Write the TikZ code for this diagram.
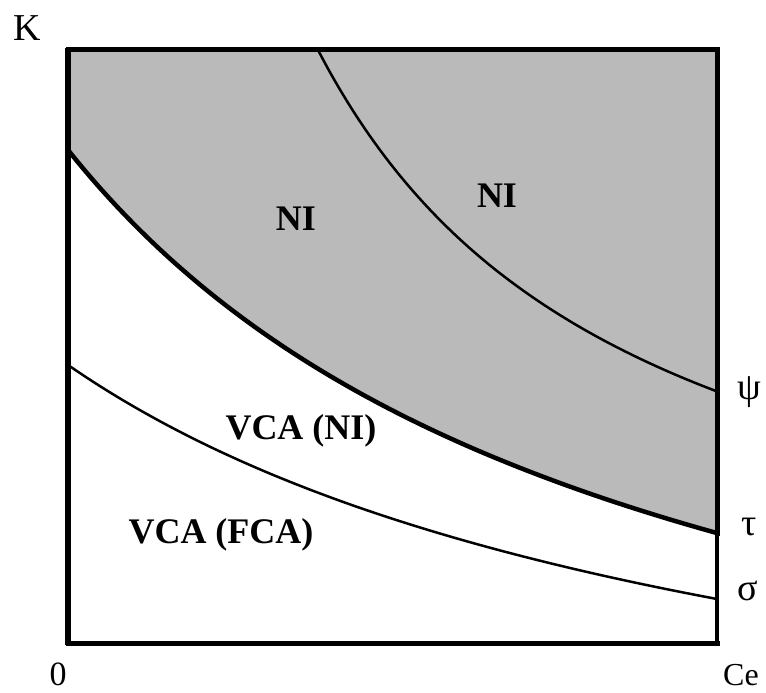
\documentclass[tikz,border=0pt]{standalone}
\usepackage{fontspec}
\setmainfont{Liberation Serif}
\begin{document}
\begin{tikzpicture}[x=1pt,y=-1pt,
  region/.style={font=\bfseries\fontsize{36}{40}\selectfont, inner sep=0pt, anchor=base},
  axislbl/.style={font=\fontsize{34}{38}\selectfont, inner sep=0pt},
  greeklbl/.style={font=\fontsize{38}{42}\selectfont, inner sep=0pt},
  thickcurve/.style={line width=4.5pt},
  thincurve/.style={line width=2.5pt},
  frame/.style={line width=5pt, line cap=rect, line join=miter}]
\useasboundingbox (0,0) rectangle (766,693);
% shaded NI region
\fill[black!27] (68,50) -- (717,50) -- (717,533)
  -- plot[domain=717:68, samples=80] (\x, {874 - 418.225/((\x+509.7)/1000)}) -- cycle;
% curves
\draw[thickcurve] plot[domain=68:717, samples=80] (\x, {874 - 418.225/((\x+509.7)/1000)});
\draw[thincurve] plot[domain=318:717, samples=80] (\x, {663.6 - 195.136/(\x/1000)});
\draw[thincurve] plot[domain=68:717, samples=80] (\x, {854.2 - 346.257/((\x+639.8)/1000)});
% frame
\draw[frame] (717,533) -- (717,50) -- (68,50) -- (68,643) -- (717,643);
\draw[line width=6pt] (68,48) -- (68,645);
\draw[line width=3.5pt, line cap=rect] (717,643) -- (717,533);
% region labels
\node[region] (ni1) at (296,230) {NI};
\node[region] (ni2) at (497,207) {NI};
\node[region] (vcani) at (301,439) {VCA (NI)};
\node[region] (vcafca) at (221,543) {VCA (FCA)};
% axis labels
\node[axislbl, font=\fontsize{38}{40}\selectfont] (k) at (27,28) {K};
\node[axislbl] (zero) at (58,674) {0};
\node[axislbl, font=\fontsize{32}{36}\selectfont] (ce) at (741,675) {Ce};
\node[greeklbl] (psi) at (749,392) {ψ};
\node[greeklbl] (tau) at (749,527) {τ};
\node[greeklbl] (sigma) at (748,591) {σ};
\end{tikzpicture}
\end{document}
